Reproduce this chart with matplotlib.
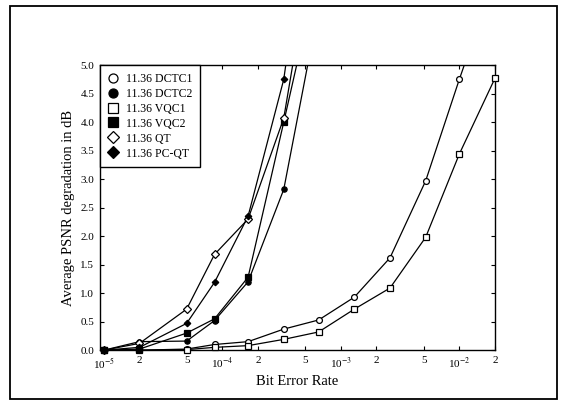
import matplotlib
matplotlib.use('Agg')
import matplotlib.pyplot as plt
from matplotlib.lines import Line2D
from matplotlib.patches import Rectangle
import numpy as np

plt.rcParams['font.family'] = ['Liberation Serif', 'DejaVu Serif']
plt.rcParams['mathtext.fontset'] = 'stix'

# bit error rates at which the curves were measured
ber = [1e-5, 2e-5, 5e-5, 8.6e-5, 1.65e-4, 3.3e-4, 6.5e-4, 1.3e-3, 2.6e-3, 5.2e-3, 1e-2, 2e-2]
nan = np.nan

# average PSNR degradation (dB); values above 5.0 only steer the clipped line
dctc1 = [0.0, 0.0, 0.02, 0.10, 0.15, 0.37, 0.53, 0.93, 1.62, 2.97, 4.75, 6.55]
dctc2 = [0.0, 0.15, 0.16, 0.52, 1.20, 2.82, 6.0, nan, nan, nan, nan, nan]
vqc1 = [0.0, 0.0, 0.01, 0.05, 0.08, 0.19, 0.32, 0.72, 1.09, 1.98, 3.44, 4.77]
vqc2 = [0.0, 0.02, 0.30, 0.55, 1.28, 4.0, 6.7, nan, nan, nan, nan, nan]
qt = [0.0, 0.12, 0.72, 1.68, 2.30, 4.07, 7.7, nan, nan, nan, nan, nan]
pcqt = [0.0, 0.05, 0.47, 1.19, 2.35, 4.75, 9.1, nan, nan, nan, nan, nan]

names = ['11.36 DCTC1', '11.36 DCTC2', '11.36 VQC1', '11.36 VQC2', '11.36 QT', '11.36 PC-QT']
series = [dctc1, dctc2, vqc1, vqc2, qt, pcqt]
markers = ['o', 'o', 's', 's', 'D', 'D']
fills = ['white', 'black', 'white', 'black', 'white', 'black']
msizes = [4.2, 3.8, 4.2, 4.2, 3.8, 3.3]

xticks = [1e-5, 2e-5, 5e-5, 1e-4, 2e-4, 5e-4, 1e-3, 2e-3, 5e-3, 1e-2, 2e-2]
xticklabels = ['10$^{-5}$', '2', '5', '10$^{-4}$', '2', '5', '10$^{-3}$', '2', '5', '10$^{-2}$', '2']
yticks = [0.0, 0.5, 1.0, 1.5, 2.0, 2.5, 3.0, 3.5, 4.0, 4.5, 5.0]

fig = plt.figure(figsize=(5.67, 4.12), dpi=100)
ax = fig.add_axes([0.176, 0.150, 0.697, 0.692])

x = np.array(ber)
for vals, m, fc, ms in zip(series, markers, fills, msizes):
    y = np.array(vals, dtype=float)
    ok = ~np.isnan(y)
    ax.plot(x[ok], y[ok], color='black', linewidth=0.9, zorder=2)
    inside = ok & (y <= 5.0)
    ax.plot(x[inside], y[inside], linestyle='none', marker=m, markersize=ms,
            markerfacecolor=fc, markeredgecolor='black', markeredgewidth=0.9,
            clip_on=False, zorder=3)

ax.set_xscale('log')
ax.set_xlim(9.25e-6, 2e-2)
ax.set_ylim(0, 5.0)
ax.set_xticks(xticks)
ax.set_xticklabels(xticklabels)
ax.xaxis.set_minor_locator(matplotlib.ticker.NullLocator())
ax.set_yticks(yticks)
ax.set_yticklabels(['%.1f' % v for v in yticks])
ax.tick_params(direction='in', length=3, width=0.8, labelsize=8,
               top=True, right=True, pad=4)
for s in ax.spines.values():
    s.set_linewidth(1.0)

ax.set_xlabel('Bit Error Rate', fontsize=10.5, labelpad=3)
ax.set_ylabel('Average PSNR degradation in dB', fontsize=10.5, labelpad=4)

handles = [Line2D([], [], linestyle='none', marker=m, markersize=6.5,
                  markerfacecolor=fc, markeredgecolor='black', markeredgewidth=0.9)
           for m, fc in zip(markers, fills)]
leg = ax.legend(handles, names, loc='upper left', borderaxespad=0, fontsize=8.5,
                frameon=True, fancybox=False, edgecolor='black', framealpha=1,
                handlelength=1.0, handletextpad=0.6, labelspacing=0.25,
                borderpad=0.65)
leg.get_frame().set_linewidth(1.0)

# outer frame around the whole figure
fig.patches.append(Rectangle((0.018, 0.032), 0.964, 0.953, transform=fig.transFigure,
                             fill=False, edgecolor='black', linewidth=1.3))

fig.savefig('out.png', dpi=100)
